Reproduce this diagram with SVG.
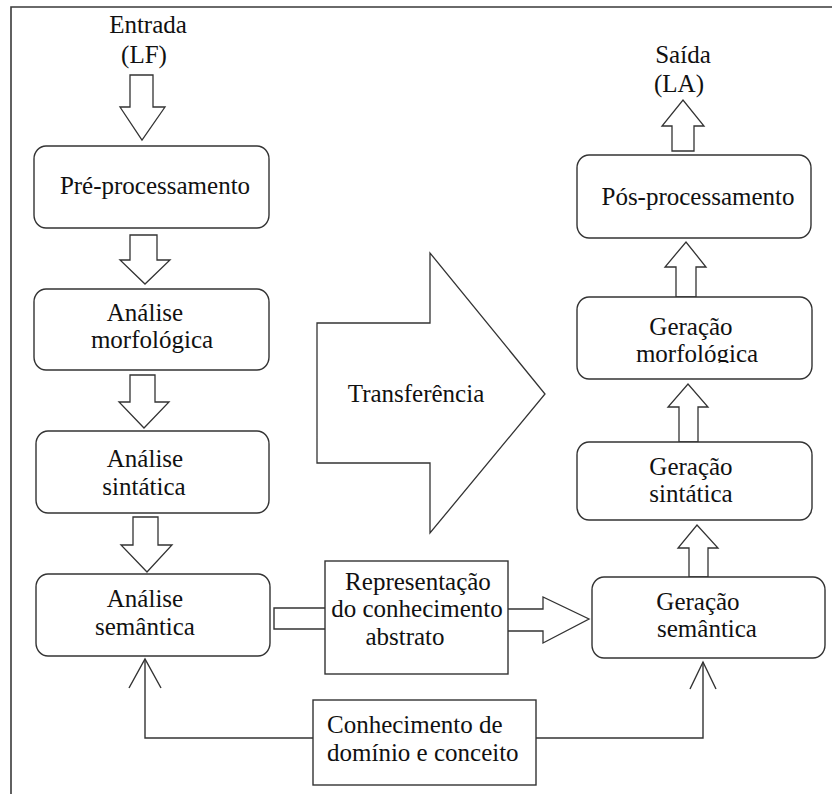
<svg xmlns="http://www.w3.org/2000/svg" width="832" height="794" viewBox="0 0 832 794" font-family="'Liberation Serif', 'DejaVu Serif', serif" font-size="25">
  <defs>
    <style>
      .frame { fill: none; stroke: #3a3a3a; stroke-width: 1.6; }
      .box { fill: #fff; stroke: #333; stroke-width: 1.4; }
      .blk { fill: #fff; stroke: #333; stroke-width: 1.3; stroke-linejoin: miter; }
      .ln { fill: none; stroke: #333; stroke-width: 1.4; }
      .t { font-family: 'Liberation Serif', 'DejaVu Serif', serif; font-size: 25px; fill: #111; }
      .c { text-anchor: middle; }
    </style>
    <clipPath id="clipMorf">
      <rect x="577" y="297" width="235" height="66"/>
    </clipPath>
  </defs>

  <rect width="832" height="794" fill="#fff"/>

  <!-- outer frame: top and left edges -->
  <polyline class="frame" points="11,794 11,7 832,7"/>

  <!-- connectors -->
  <g id="connectors">
    <!-- input arrow and left column arrows (down) -->
    <polygon class="blk" points="130,75 153,75 153,107 165,107 142,140 120,107 130,107"/>
    <polygon class="blk" points="130,235 157,235 157,260 170,260 145,284 120,260 130,260"/>
    <polygon class="blk" points="130,375 155,375 155,402 169,402 144,428 119,402 130,402"/>
    <polygon class="blk" points="133,517 158,517 158,545 172,545 147,572 121,545 133,545"/>

    <!-- right column arrows (up) -->
    <polygon class="blk" points="672,151 694,151 694,126 704,126 683,100 662,126 672,126"/>
    <polygon class="blk" points="676,297 696,297 696,267 706,267 686,242 665,267 676,267"/>
    <polygon class="blk" points="679,442 698,442 698,407 708,407 688,384 668,407 679,407"/>
    <polygon class="blk" points="689,577 708,577 708,548 718,548 697,525 678,548 689,548"/>

    <!-- analysis to abstract representation -->
    <polyline class="ln" points="325,608 274,608 274,629 325,629"/>
    <!-- abstract representation to semantic generation -->
    <polyline class="blk" points="508,609 543,609 543,597 589,619 543,643 543,631 508,631"/>

    <!-- domain knowledge feedback lines -->
    <polyline class="ln" points="313,738 145,738 145,659"/>
    <polyline class="ln" points="129,688 145,659 161,688"/>
    <polyline class="ln" points="536,738 703,738 703,662"/>
    <polyline class="ln" points="690,689 703,662 716,689"/>
  </g>

  <!-- transfer block arrow -->
  <g id="transferencia">
    <polygon class="blk" points="317,323 430,323 430,253 545,394 430,533 430,463 317,463"/>
    <text class="t c" x="416" y="402">Transferência</text>
  </g>

  <!-- inputs / outputs -->
  <g id="entrada">
    <text class="t c" x="148" y="33">Entrada</text>
    <text class="t c" x="144" y="63">(LF)</text>
  </g>
  <g id="saida">
    <text class="t c" x="683" y="63">Saída</text>
    <text class="t c" x="679" y="92">(LA)</text>
  </g>

  <!-- analysis column -->
  <g id="pre-processamento">
    <rect class="box" x="34" y="146" width="235" height="82" rx="12" ry="13"/>
    <text class="t c" x="155" y="194">Pré-processamento</text>
  </g>
  <g id="analise-morfologica">
    <rect class="box" x="34" y="289" width="235" height="81" rx="12" ry="13"/>
    <text class="t c" x="145" y="321">Análise</text>
    <text class="t c" x="152" y="348">morfológica</text>
  </g>
  <g id="analise-sintatica">
    <rect class="box" x="36" y="431" width="233" height="82" rx="12" ry="13"/>
    <text class="t c" x="145" y="467">Análise</text>
    <text class="t c" x="144" y="495">sintática</text>
  </g>
  <g id="analise-semantica">
    <rect class="box" x="36" y="574" width="234" height="82" rx="12" ry="13"/>
    <text class="t c" x="145" y="607">Análise</text>
    <text class="t c" x="145" y="635">semântica</text>
  </g>

  <!-- center boxes -->
  <g id="representacao">
    <rect class="box" x="325" y="561" width="183" height="113"/>
    <text class="t c" x="418" y="590">Representação</text>
    <text class="t c" x="417" y="617">do conhecimento</text>
    <text class="t c" x="405" y="645">abstrato</text>
  </g>
  <g id="conhecimento">
    <rect class="box" x="313" y="700" width="223" height="85"/>
    <text class="t" x="327" y="733">Conhecimento de</text>
    <text class="t" x="327" y="761">domínio e conceito</text>
  </g>

  <!-- generation column -->
  <g id="pos-processamento">
    <rect class="box" x="577" y="155" width="234" height="83" rx="12" ry="13"/>
    <text class="t c" x="698" y="205">Pós-processamento</text>
  </g>
  <g id="geracao-morfologica">
    <rect class="box" x="577" y="297" width="235" height="82" rx="12" ry="13"/>
    <text class="t c" x="691" y="335">Geração</text>
    <text class="t c" x="697" y="362" clip-path="url(#clipMorf)">morfológica</text>
  </g>
  <g id="geracao-sintatica">
    <rect class="box" x="577" y="442" width="235" height="78" rx="12" ry="13"/>
    <text class="t c" x="691" y="475">Geração</text>
    <text class="t c" x="691" y="502">sintática</text>
  </g>
  <g id="geracao-semantica">
    <rect class="box" x="592" y="577" width="233" height="81" rx="12" ry="13"/>
    <text class="t c" x="698" y="610">Geração</text>
    <text class="t c" x="707" y="637">semântica</text>
  </g>
</svg>
